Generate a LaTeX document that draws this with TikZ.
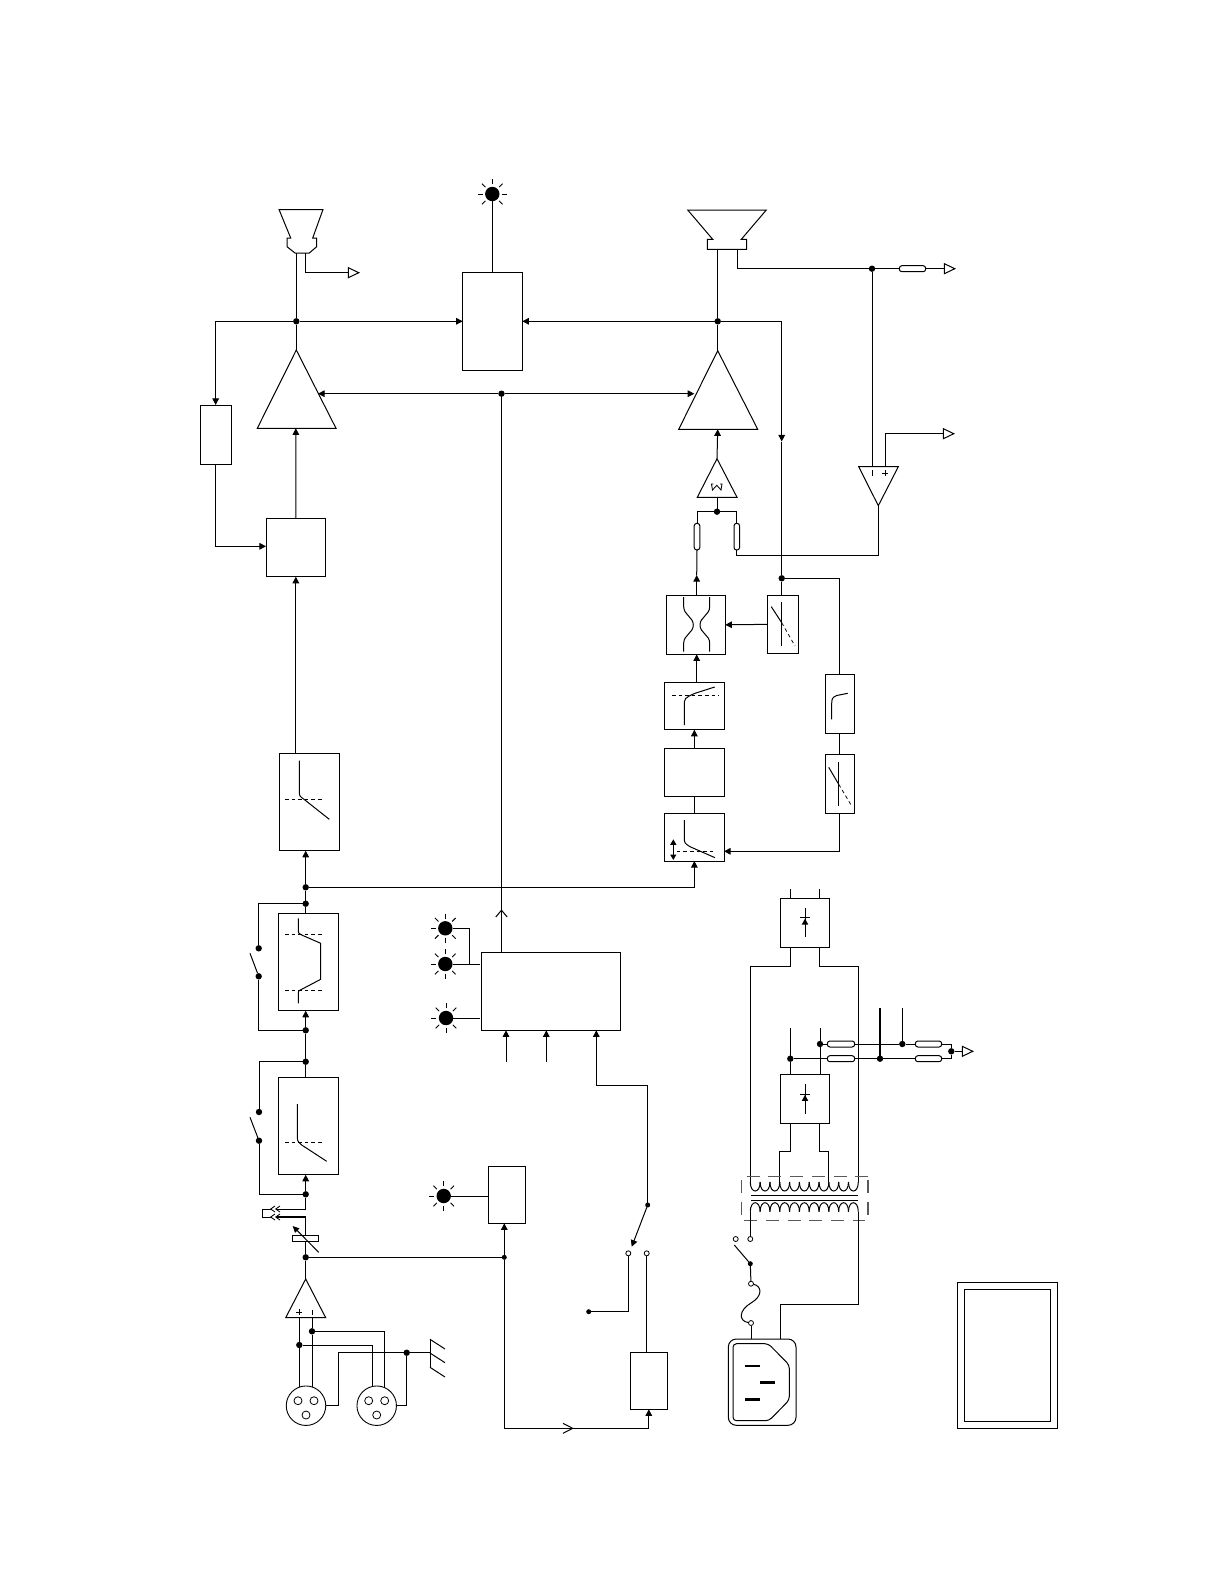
\documentclass[tikz,border=0pt]{standalone}
\usetikzlibrary{arrows.meta}
\newcommand{\mybox}[6][]{%
  \pgfmathsetmacro\bxw{#5-#3}\pgfmathsetmacro\bxh{#6-#4}%
  \node[bx,minimum width=\bxw pt,minimum height=\bxh pt,#1] (#2) at ({(#3+#5)/2},{(#4+#6)/2}) {};}
\newcommand{\ledlamp}[3]{%
  \node[ledcore] (#1) at (#2,#3) {};
  \foreach \a in {0,45,...,315}{\draw[ray] ({#2+9.7*cos(\a)},{#3+9.7*sin(\a)}) -- ({#2+14.6*cos(\a)},{#3+14.6*sin(\a)});}}
\newcommand{\opentri}[2]{\draw[wire,fill=white] (#1,#2-5) -- (#1+10.5,#2) -- (#1,#2+5) -- cycle;}
\newcommand{\diodesym}[2]{%
  \draw[wire] (#1,#2) -- (#1,#2+29.3);
  \draw[thinw] (#1-5,#2+9.7) -- (#1+5,#2+9.7);
  \fill (#1-3.3,#2+16.6) -- (#1+3.3,#2+16.6) -- (#1,#2+10.7) -- cycle;}
\tikzset{
  wire/.style={line width=1pt,line join=miter},
  thinw/.style={line width=0.85pt},
  ray/.style={line width=0.9pt},
  bx/.style={draw,line width=1pt,rectangle,inner sep=0pt,outer sep=0pt},
  dot/.style={circle,fill=black,inner sep=0pt,outer sep=0pt,minimum size=6.4pt},
  sdot/.style={circle,fill=black,inner sep=0pt,outer sep=0pt,minimum size=5pt},
  ocirc/.style={circle,draw,line width=0.8pt,fill=white,inner sep=0pt,outer sep=0pt,minimum size=5pt},
  ledcore/.style={circle,fill=black,inner sep=0pt,outer sep=0pt,minimum size=14.4pt},
  hole/.style={circle,draw,line width=0.8pt,inner sep=0pt,outer sep=0pt,minimum size=8pt},
  xlr/.style={circle,draw,line width=0.9pt,inner sep=0pt,outer sep=0pt,minimum size=39.5pt},
  resist/.style={rounded corners=2.6pt},
  arr/.style={wire,-{Triangle[length=6.6pt,width=6.6pt]}},
  darr/.style={wire,{Triangle[length=5.5pt,width=6pt]}-{Triangle[length=5.5pt,width=6pt]}},
  dsh/.style={line width=0.75pt,dash pattern=on 3.6pt off 3pt},
  curve/.style={line width=1pt},
  shield/.style={line width=1.4pt,black!65,dash pattern=on 13pt off 8.7pt}
}
\begin{document}
\begin{tikzpicture}[x=1pt,y=-1pt]
\useasboundingbox[fill=white] (0,0) rectangle (1224,1584);

% ---- boxes
\mybox{fbk}{200}{405}{231.3}{464.3}
\mybox{gain}{266}{518}{325.7}{576.7}
\mybox{mid}{462.7}{272.3}{522.3}{370.3}
\mybox{comp}{279.7}{753}{339}{850.7}
\mybox{deess}{278.7}{913}{338.3}{1010.7}
\mybox{low}{278.7}{1077}{338.3}{1174.7}
\mybox{ctrl}{481.3}{952.3}{620.7}{1030.3}
\mybox{sense}{488.3}{1166.3}{525.7}{1223.3}
\mybox{relay}{630.3}{1352.3}{667.3}{1409.3}
\mybox{cross}{666.3}{595.3}{725.3}{654.3}
\mybox{lim}{767.3}{595}{798.3}{653.7}
\mybox{upper}{664.7}{682}{724}{729.7}
\mybox{plain}{664.7}{748.3}{724}{796}
\mybox{bott}{664.7}{813.3}{724}{861}
\mybox{rbA}{825.3}{674.7}{854}{733.3}
\mybox{rbB}{825.3}{754.3}{854}{813.3}
\mybox{psuA}{780.3}{898.3}{829.3}{947}
\mybox{psuB}{780.3}{1074.3}{829.3}{1123.3}
\mybox{frameO}{957.7}{1282.3}{1057.3}{1428}
\mybox{frameI}{964.7}{1289}{1050.7}{1421.3}
\mybox[resist]{rL}{694.2}{523.3}{699.8}{550}
\mybox[resist]{rR}{734}{523.3}{739.6}{550}
\mybox[resist]{rOut}{899.3}{265.7}{925.7}{271.7}
\mybox[resist]{rA}{827.3}{1041}{854.7}{1047}
\mybox[resist]{rB}{827.3}{1055.7}{854.7}{1061.7}
\mybox[resist]{rC}{915.3}{1041}{941.7}{1047}
\mybox[resist]{rD}{915.3}{1055.7}{941.7}{1061.7}

% ---- junctions and free ends
\node[dot] (jL) at (296.3,321.3) {};
\node[dot] (jR) at (717.7,321.3) {};
\node[dot] (jMid) at (501.5,393.7) {};
\node[dot] (jS) at (781.7,578.3) {};
\node[dot] (jSp) at (872,268.7) {};
\node[dot] (jT) at (717,511.7) {};
\node[dot] (j1) at (305.7,887.3) {};
\node[dot] (j2) at (305.7,903.7) {};
\node[dot] (j3) at (305.7,1030.3) {};
\node[dot] (j4) at (305.7,1061.7) {};
\node[dot] (j5) at (305.7,1194.3) {};
\node[dot] (j6) at (305.7,1257.3) {};
\node[dot] (j7) at (312,1331.3) {};
\node[dot] (j8) at (299.3,1345) {};
\node[dot] (gdot) at (406.7,1352.7) {};
\node[dot] (swAa) at (258.7,948.3) {};
\node[dot] (swAb) at (258.7,976.3) {};
\node[dot] (swBa) at (259,1112) {};
\node[dot] (swBb) at (259,1140.7) {};
\node[sdot] (j9) at (504.3,1257.3) {};
\node[sdot] (swCp) at (647.7,1205) {};
\node[sdot] (swCe) at (588.7,1311.7) {};
\node[ocirc] (swCl) at (628.3,1253.3) {};
\node[ocirc] (swCr) at (646.7,1253.3) {};
\node[dot] (pA) at (820,1044) {};
\node[dot] (pB) at (790.3,1058.7) {};
\node[dot] (pC) at (902.3,1044) {};
\node[dot] (pD) at (880,1058.7) {};
\node[dot] (pE) at (951.3,1051.3) {};
\node[ocirc] (mA) at (735.7,1239) {};
\node[ocirc] (mB) at (750.3,1239) {};
\node[sdot] (mC) at (750.3,1263.7) {};
\node[ocirc] (mD) at (751,1283.7) {};
\node[ocirc] (mE) at (751,1323) {};

\coordinate (hornA) at (296.3,253);
\coordinate (hornB) at (305.3,253);
\coordinate (hornOut) at (348.3,272.7);
\coordinate (ampLtop) at (296.3,350);
\coordinate (ampLside) at (318,393.7);
\coordinate (ampRside) at (694.3,393.7);
\coordinate (ampRtop) at (717.7,350.7);
\coordinate (ampRbase) at (717.7,429.3);
\coordinate (ampLbase) at (295.85,428.3);
\coordinate (gainIn) at (266,546.3);
\coordinate (spkA) at (717.7,249.3);
\coordinate (spkB) at (737.3,249.3);
\coordinate (spkOut) at (944.3,268.7);
\coordinate (diffM) at (872,466.7);
\coordinate (diffP) at (885,466.7);
\coordinate (diffO) at (878.3,505.7);
\coordinate (diffOut) at (943.3,433.7);
\coordinate (bufTop) at (717,458.7);
\coordinate (bufBot) at (717,497.3);
\coordinate (sDown) at (781.7,441.5);
\coordinate (crossIn) at (696.7,595.3);
\coordinate (crossOut) at (696.7,575);
\coordinate (limPin) at (781.7,595);
\coordinate (psIn) at (724,851.3);
\coordinate (inJack) at (275.7,1209);
\coordinate (inJackB) at (276,1217);
\coordinate (jackT) at (305.7,1209);
\coordinate (jackB) at (305.7,1217);
\coordinate (ampIn) at (305.7,1279);
\coordinate (ampInP) at (299.3,1317.7);
\coordinate (ampInM) at (312,1317.7);
\coordinate (xA) at (299.3,1387.3);
\coordinate (xB) at (312,1387.3);
\coordinate (xC) at (372.3,1387.3);
\coordinate (xD) at (384,1387.3);
\coordinate (gBar) at (430,1352.7);
\coordinate (botL) at (504.3,1428.3);
\coordinate (swCend) at (631.7,1246.7);

% ---- lamps, connectors
\ledlamp{ledTop}{492.3}{194}
\ledlamp{ledA}{445.3}{928.3}
\ledlamp{ledB}{445.3}{964}
\ledlamp{ledC}{446}{1018}
\ledlamp{ledD}{443.7}{1196}
\node[xlr] (xlrA) at (306,1405.7) {};
\node[xlr] (xlrB) at (376.7,1405.7) {};
\node[hole] (hA1) at (298,1400.7) {};
\node[hole] (hA2) at (314,1400.7) {};
\node[hole] (hA3) at (306,1415) {};
\node[hole] (hB1) at (368.7,1400.7) {};
\node[hole] (hB2) at (384.7,1400.7) {};
\node[hole] (hB3) at (376.7,1415) {};

% ---- horn, speaker, amplifiers
\draw[wire] (279,209.5) -- (323,209.5) -- (312.7,238) -- (316.7,238) -- (316.7,246.7) -- (309.3,253) -- (295,253) -- (287,246.7) -- (287,238) -- (290.7,238) -- cycle;
\draw[wire] (687.7,210) -- (766.3,210) -- (741.3,239.3) -- (746.7,239.3) -- (746.7,249.3) -- (707.3,249.3) -- (707.3,239.3) -- (712.7,239.3) -- cycle;
\draw[wire] (ampLtop) -- (336,428.3) -- (257.3,428.3) -- cycle;
\draw[wire] (ampRtop) -- (757.7,429.3) -- (678.7,429.3) -- cycle;
\draw[wire] (bufTop) -- (737,497.3) -- (697.3,497.3) -- cycle;
\draw[thinw] (713.3,484) -- (711.5,484) -- (712.5,490) -- (716.8,485.3) -- (721,490) -- (722,484) -- (720.2,484);
\draw[wire] (858.7,466.7) -- (898.3,466.7) -- (diffO) -- cycle;
\draw[wire] (885,470) -- (885,476) (882,473) -- (888,473);
\draw[thinw] (872,470) -- (872,476);
\draw[wire] (ampIn) -- (325.7,1317.7) -- (285.7,1317.7) -- cycle;
\draw[wire] (299,1309) -- (299,1315) (296,1312) -- (302,1312);
\draw[thinw] (312,1309.5) -- (312,1315);

% ---- open output arrows
\opentri{348.3}{272.7}
\opentri{944.3}{268.7}
\opentri{943.3}{433.7}
\opentri{962.3}{1051.3}

% ---- top section connectors
\draw[wire] (ledTop) -- (ledTop |- mid.north);
\draw[wire] (hornA) -- (jL);
\draw[wire] (jL) -- (ampLtop);
\draw[wire] (hornB) |- (hornOut);
\draw[arr] (jL) -- (mid.west);
\draw[arr] (jR) -- (mid.east);
\draw[arr] (jL) -| (fbk.north);
\draw[arr] (fbk.south) |- (gainIn);
\draw[arr] (gain.north) -- (ampLbase);
\draw[arr] (gain.south |- comp.north) -- (gain.south);
\draw[wire] (spkA) -- (jR);
\draw[wire] (jR) -- (ampRtop);
\draw[wire] (spkB) |- (jSp);
\draw[wire] (jSp) -- (rOut.west);
\draw[wire] (rOut.east) -- (spkOut);
\draw[wire] (jSp) -- (diffM);
\draw[wire] (diffP) |- (diffOut);
\draw[arr] (jMid) -- (ampLside);
\draw[arr] (jMid) -- (ampRside);
\draw[wire] (ctrl.north -| jMid) -- (jMid);
\draw[wire] (495.8,917) -- (501.5,910.2) -- (507.2,917);
\draw[arr] (bufTop) -- (ampRbase);
\draw[wire] (bufBot) -- (jT);
\draw[wire] (jT) -| (rL.north);
\draw[wire] (jT) -| (rR.north);
\draw[wire] (rR.south) |- (878.3,555) -- (diffO);
\draw[wire] (rL.south) -- (crossOut);
\draw[arr] (crossIn) -- (crossOut);
\draw[arr] (jR) -| (sDown);
\draw[wire] (sDown) -- (jS);
\draw[wire] (jS) -- (limPin);
\draw[wire] (jS) -| (rbA.north);
\draw[wire] (rbA.south) -- (rbB.north);
\draw[arr] (rbB.south) |- (psIn);
\draw[arr] (lim.west) -- (cross.east);
\draw[arr] (upper.north -| crossIn) -- (crossIn |- cross.south);
\draw[arr] (plain.north) -- (upper.south);
\draw[wire] (bott.north) -- (plain.south);

% ---- left column connectors
\draw[arr] (j1) -- (j1 |- comp.south);
\draw[wire] (j1) -- (j2);
\draw[wire] (j2) -- (j2 |- deess.north);
\draw[arr] (j3) -- (j3 |- deess.south);
\draw[wire] (j3) -- (j4);
\draw[wire] (j4) -- (j4 |- low.north);
\draw[arr] (j5) -- (j5 |- low.south);
\draw[arr] (j1) -| (bott.south);
\draw[wire] (j2) -| (swAa);
\draw[wire] (swAb) |- (j3);
\draw[wire] (j4) -| (swBa);
\draw[wire] (swBb) |- (j5);
\draw[wire] (250,953.3) -- (swAb);
\draw[wire] (250,1117.3) -- (swBb);
\draw[wire] (j5) -- (jackT) -- (inJack);
\draw[line width=1.2pt] (inJackB) -- (jackB);
\draw[line width=1.2pt] (jackB) -- (j6);
\draw[wire] (j6) -- (ampIn);
\draw[thinw] (275,1206) -- (270.7,1209) -- (275,1212) (280,1206) -- (275.7,1209) -- (280,1212);
\draw[thinw] (275,1214) -- (270.7,1217) -- (275,1220) (280,1214) -- (275.7,1217) -- (280,1220);
\draw[wire] (270.7,1209) -- (262.3,1209) -- (262.3,1217) -- (270.7,1217);
\mybox[fill=white]{trim}{292.3}{1235.7}{318.7}{1241.7}
\draw[wire,-{Triangle[length=6.5pt,width=6pt]}] (318.7,1252.3) -- (292.7,1226);
\draw[wire] (j6) -- (j9);
\draw[wire] (ampInP) -- (j8);
\draw[wire] (j8) -- (xA);
\draw[wire] (ampInM) -- (j7);
\draw[wire] (j7) -- (xB);
\draw[wire] (j7) -| (xD);
\draw[wire] (j8) -| (xC);
\draw[wire] (xlrA.east) -- (338.7,1405.7) -- (338.7,1352.7) -- (gdot);
\draw[wire] (xlrB.east) -| (gdot);
\draw[wire] (gdot) -- (gBar);
\draw[wire] (430,1339.3) -- (430,1367.3);
\draw[wire] (430,1339.3) -- (445,1349) (430,1353) -- (445,1362.7) (430,1367.3) -- (445,1377);

% ---- controller section connectors
\draw[wire] (ledA) -- (469.3,928.3) -- (469.3,964);
\draw[wire] (ledB) -- (480,964);
\draw[wire] (ledC) -- (480,1018);
\draw[arr] (506,1061.7) -- (506,1030.3);
\draw[arr] (546.3,1061.7) -- (546.3,1030.3);
\draw[arr] (swCp) -- (647.7,1085) -- (596.3,1085) -- (596.3,1030.3);
\draw[arr] (swCp) -- (swCend);
\draw[wire] (swCl) |- (swCe);
\draw[line width=1.2pt] (swCr) -- (swCr |- relay.north);
\draw[wire] (ledD) -- (ledD -| sense.west);
\draw[arr] (j9) -- (j9 |- sense.south);
\draw[wire] (j9) -- (botL);
\draw[arr] (botL) -| (relay.south);
\draw[wire] (563,1423.3) -- (572.7,1428.3) -- (563,1433.3);

% ---- power supply
\draw[wire] (790,889) -- (790,898.3);
\draw[wire] (819,889) -- (819,898.3);
\diodesym{805}{908}
\diodesym{805}{1084.3}
\draw[wire] (790,947) -- (790,966.3) -- (750.3,966.3) -- (750.3,1182);
\draw[wire] (819,947) -- (819,966.3) -- (858.3,966.3) -- (858.3,1182);
\draw[wire] (790,1123.3) -- (790,1151.3) -- (779.8,1151.3) -- (779.8,1182);
\draw[wire] (819.3,1123.3) -- (819.3,1151.3) -- (828.9,1151.3) -- (828.9,1182);
\draw[wire] (790.3,1028.3) -- (pB);
\draw[wire] (pB) -- (790.3,1074.3);
\draw[wire] (820,1028.3) -- (pA);
\draw[wire] (pA) -- (820,1074.3);
\draw[wire] (pA) -- (rA.west);
\draw[wire] (pB) -- (rB.west);
\draw[wire] (rA.east) -- (pC);
\draw[wire] (rB.east) -- (pD);
\draw[wire] (pC) -- (rC.west);
\draw[wire] (pD) -- (rD.west);
\draw[wire] (rC.east) -- (951.3,1044) -- (pE);
\draw[wire] (rD.east) -- (951.3,1058.7) -- (pE);
\draw[wire] (pE) -- (962.3,1051.3);
\draw[line width=1.7pt] (880,1008) -- (pD);
\draw[wire] (902.3,1008) -- (pC);
% transformer
\foreach \i in {0,...,10}{
  \pgfmathsetmacro\xa{750.3+9.818*\i}\pgfmathsetmacro\xb{750.3+9.818*(\i+1)}
  \draw[wire] (\xa,1182) .. controls (\xa,1194) and (\xb,1194) .. (\xb,1182);
  \draw[wire] (\xa,1211.7) .. controls (\xa,1199.7) and (\xb,1199.7) .. (\xb,1211.7);
}
\draw[wire] (751,1195) -- (857.7,1195);
\draw[wire] (751,1200.7) -- (857.7,1200.7);
\draw[shield] (746.7,1176.7) -- (868,1176.7);
\draw[shield] (744.3,1220.7) -- (865,1220.7);
\draw[shield] (741.3,1180) -- (741.3,1215);
\draw[shield] (868,1180) -- (868,1215);
% mains
\draw[wire] (750.3,1211.7) -- (mB);
\draw[wire] (734.3,1245) -- (mC);
\draw[wire] (mC) -- (mD);
\draw[wire] (mD) .. controls (762,1286) and (763,1296) .. (751,1303) .. controls (739,1310) and (738,1321) .. (mE);
\draw[wire] (mE) -- (751,1339);
\draw[wire] (858.3,1211.7) -- (858.3,1304.3) -- (780,1304.3) -- (780,1339);
\draw[wire,rounded corners=8pt] (728.3,1339) rectangle (796,1425.3);
\draw[wire,rounded corners=3.5pt] (733,1343.7) -- (768.3,1343.7) -- (789.3,1365) -- (789.3,1400) -- (769,1420.7) -- (733,1420.7) -- cycle;
\draw[line width=2.4pt] (745,1365.7) -- (760.3,1365.7) (760,1382.3) -- (775.3,1382.3) (745,1399.3) -- (760.3,1399.3);

% ---- transfer curves inside the boxes
\draw[curve] (299.3,760.7) -- (299.3,790) .. controls (299.3,796) .. (304,799.3) -- (329.3,819.3);
\draw[dsh] (285,799.3) -- (324,799.3);
\draw[curve] (298.3,918.3) -- (298.3,930.7) .. controls (298.3,933) .. (301.7,935) -- (320.7,943.3) -- (320.7,979.3) -- (301.7,989.3) .. controls (298.3,991) .. (298.3,993.3) -- (298.3,1003.3);
\draw[dsh] (285,934.3) -- (324,934.3);
\draw[dsh] (285,990.3) -- (324,990.3);
\draw[curve] (297.3,1104) -- (297.3,1135) .. controls (297.3,1141) .. (301.7,1145) -- (326.7,1161.3);
\draw[dsh] (285,1142.3) -- (324,1142.3);
\draw[curve] (683.7,597) -- (683.7,606.7) .. controls (683.7,615) and (693.3,617) .. (693.3,625) .. controls (693.3,633) and (683.7,635) .. (683.7,643) -- (683.7,651.7);
\draw[curve] (709.7,597) -- (709.7,606.7) .. controls (709.7,615) and (700,617) .. (700,625) .. controls (700,633) and (709.7,635) .. (709.7,643) -- (709.7,651.7);
\draw[curve] (781.7,601.7) -- (781.7,646);
\draw[curve] (771.3,606.7) -- (781.7,622.7);
\draw[dsh] (781.7,622.7) -- (795,646);
\draw[curve] (684.3,725) -- (684.3,706.7) .. controls (684.3,698) .. (695,693.3) -- (714.7,687);
\draw[dsh] (672,695) -- (719,695);
\draw[curve] (684.3,820) -- (684.3,836.7) .. controls (684.3,843) .. (690,846.7) -- (715,857.7);
\draw[dsh] (676.7,851.3) -- (716,851.3);
\draw[darr] (673.3,839.3) -- (673.3,860);
\draw[curve] (831.7,719.3) -- (831.7,706.7) .. controls (831.7,698) .. (836.7,695.5) -- (847.7,693.3);
\draw[curve] (838.7,762) -- (838.7,806);
\draw[curve] (828.7,767.3) -- (838.7,784.3);
\draw[dsh] (838.7,784.3) -- (851.7,806);
\end{tikzpicture}
\end{document}
